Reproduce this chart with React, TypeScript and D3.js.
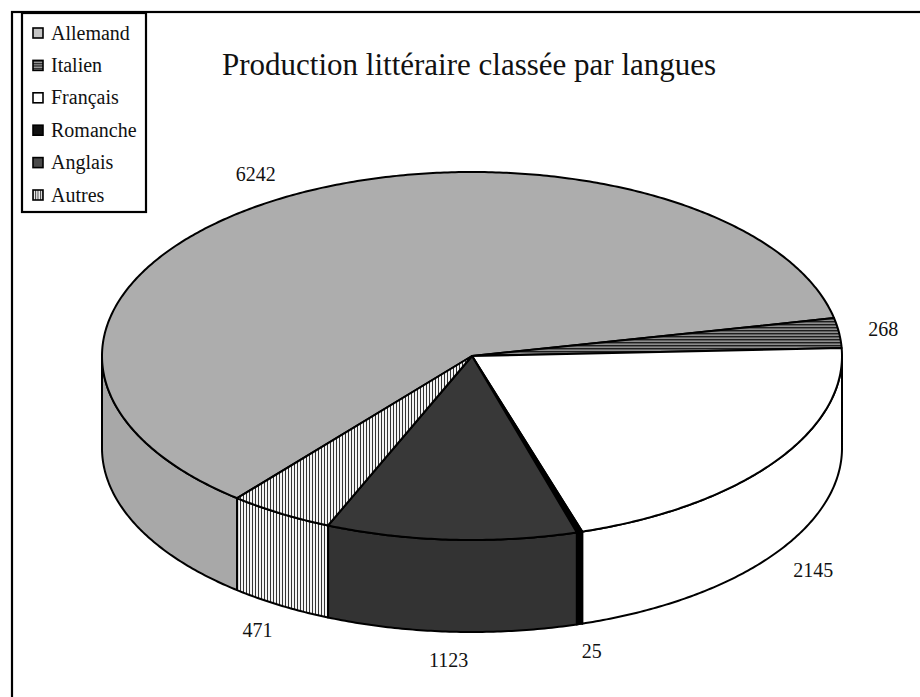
import * as d3 from 'd3';
import React, { useMemo } from 'react';

const languages = ['Allemand', 'Italien', 'Français', 'Romanche', 'Anglais', 'Autres'];
const counts = [6242, 268, 2145, 25, 1123, 471];
const chartTitle = 'Production littéraire classée par langues';

const W = 920;
const H = 697;
const CX = 472;
const CY = 356;
const RX = 370;
const RY = 184;
const DEPTH = 92;
const START_DEG = -140.6;
const FONT = '"Liberation Serif", "Times New Roman", serif';

const topFill = ['#adadad', 'url(#hz)', '#ffffff', '#000000', '#383838', 'url(#vt)'];
const sideFill = ['#a8a8a8', 'url(#hz)', '#ffffff', '#000000', '#333333', 'url(#vt)'];
const swatchFill = ['#c4c4c4', 'url(#hzs)', '#ffffff', '#111111', '#4a4a4a', 'url(#vts)'];

type Slice = d3.PieArcDatum<number>;

const pt = (t: number, dy = 0): [number, number] => [
    CX + RX * Math.sin(t),
    CY - RY * Math.cos(t) + dy,
];

const arcPts = (a: number, b: number, dy: number): [number, number][] => {
    const n = Math.max(2, Math.ceil(Math.abs(b - a) / 0.01));
    return d3.range(n + 1).map((i) => pt(a + ((b - a) * i) / n, dy));
};

// parts of [a,b] facing the viewer (lower half of the ellipse)
const frontParts = (a: number, b: number): [number, number][] => {
    const out: [number, number][] = [];
    for (const k of [-1, 0, 1]) {
        const lo = Math.max(a, Math.PI / 2 + 2 * Math.PI * k);
        const hi = Math.min(b, (3 * Math.PI) / 2 + 2 * Math.PI * k);
        if (hi > lo) out.push([lo, hi]);
    }
    return out;
};

export default function App() {
    const slices = useMemo(() => {
        const start = (START_DEG * Math.PI) / 180;
        return d3
            .pie<number>()
            .sort(null)
            .value((d) => d)
            .startAngle(start)
            .endAngle(start + 2 * Math.PI)(counts);
    }, []);

    const line = d3.line().curve(d3.curveLinearClosed);
    const legendY = d3.scaleLinear().domain([0, languages.length - 1]).range([33, 195]);

    const labelPos = (s: Slice) => {
        const m = (s.startAngle + s.endAngle) / 2;
        const k = 1.1;
        const drop = Math.cos(m) < 0 ? DEPTH : 0;
        const w = String(s.data).length * 10;
        const x = CX + RX * Math.sin(m) * k + 0.25 * w * Math.sin(m);
        const y = CY - RY * Math.cos(m) * k + drop - 10 * Math.cos(m);
        return [x, y];
    };

    return (
        <svg width={W} height={H} style={{ position: 'absolute', left: 0, top: 0, background: '#fff' }}>
            <defs>
                <pattern id="hz" width={4} height={3} patternUnits="userSpaceOnUse">
                    <rect width={4} height={3} fill="#8c8c8c" />
                    <rect width={4} height={1.4} fill="#1e1e1e" />
                </pattern>
                <pattern id="vt" width={3} height={4} patternUnits="userSpaceOnUse">
                    <rect width={3} height={4} fill="#f4f4f4" />
                    <rect width={1} height={4} fill="#333" />
                </pattern>
                <pattern id="hzs" width={4} height={2.5} patternUnits="userSpaceOnUse">
                    <rect width={4} height={2.5} fill="#999" />
                    <rect width={4} height={1.2} fill="#222" />
                </pattern>
                <pattern id="vts" width={2.5} height={4} patternUnits="userSpaceOnUse">
                    <rect width={2.5} height={4} fill="#eee" />
                    <rect width={1} height={4} fill="#444" />
                </pattern>
            </defs>

            {/* outer frame, runs off the page */}
            <rect x={12} y={12} width={1000} height={1000} fill="none" stroke="#000" strokeWidth={2.2} />

            {/* side walls */}
            {slices.map((s, i) =>
                frontParts(s.startAngle, s.endAngle).map(([a, b], j) => (
                    <path
                        key={`side-${i}-${j}`}
                        d={line([...arcPts(a, b, 0), ...arcPts(b, a, DEPTH)]) ?? ''}
                        fill={sideFill[i]}
                        stroke="#000"
                        strokeWidth={2}
                        strokeLinejoin="round"
                    />
                ))
            )}

            {/* top faces */}
            {slices.map((s, i) => (
                <path
                    key={`top-${i}`}
                    d={line([[CX, CY], ...arcPts(s.startAngle, s.endAngle, 0)]) ?? ''}
                    fill={topFill[i]}
                    stroke="#000"
                    strokeWidth={2}
                    strokeLinejoin="round"
                />
            ))}

            {/* value labels */}
            {slices.map((s, i) => {
                const [x, y] = labelPos(s);
                return (
                    <text
                        key={`lab-${i}`}
                        x={x}
                        y={y}
                        dy="0.35em"
                        textAnchor="middle"
                        fontFamily={FONT}
                        fontSize={20}
                        fill="#111"
                    >
                        {s.data}
                    </text>
                );
            })}

            <text x={222} y={75} fontFamily={FONT} fontSize={31} fill="#111">
                {chartTitle}
            </text>

            {/* legend */}
            <rect x={22} y={13} width={124} height={199} fill="#fff" stroke="#000" strokeWidth={2.2} />
            {languages.map((name, i) => (
                <g key={name} transform={`translate(0,${legendY(i)})`}>
                    <rect x={33} y={-5} width={10} height={10} fill={swatchFill[i]} stroke="#000" strokeWidth={1.6} />
                    <text x={51} y={6.5} fontFamily={FONT} fontSize={20} fill="#111">
                        {name}
                    </text>
                </g>
            ))}
        </svg>
    );
}
